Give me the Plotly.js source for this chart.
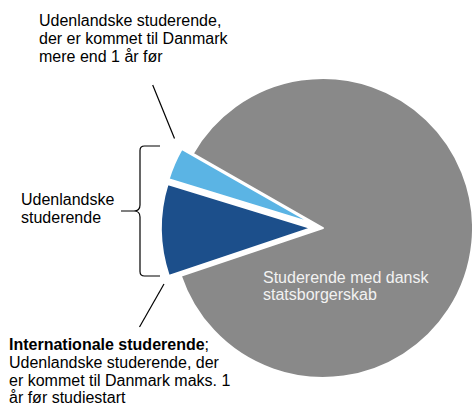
<!DOCTYPE html>
<html>
<head>
<meta charset="utf-8">
<script src="https://cdn.plot.ly/plotly-3.0.1.min.js"></script>
<style>
html,body{margin:0;padding:0;overflow:hidden;background:#fff;}
#chart{width:490px;height:405px;}
</style>
</head>
<body>
<div id="chart"></div>
<script>
// Data (shares, %)
const categories = ["Studerende med dansk statsborgerskab", "Internationale studerende", "Udenlandske studerende, kommet mere end 1 år før"];
const values = [86.6, 9.9, 3.5];
const colors = ["#898989", "#1c4f8b", "#5bb4e4"];
const pulls = [0, 0.08, 0.08];

const W = 490, H = 405;
const px = (x) => x / W;
const py = (y) => 1 - y / H;
const FONT = "Liberation Sans, Arial, sans-serif";

const trace = {
  type: "pie",
  labels: categories,
  values: values,
  sort: false,
  direction: "clockwise",
  rotation: -60.3,
  pull: pulls,
  marker: {colors: colors, line: {color: "#ffffff", width: 2}},
  textinfo: "none",
  hoverinfo: "label+value",
  showlegend: false,
  domain: {x: [161 / W, 485 / W], y: [py(390), py(66)]}
};

function line(text, x, y, color) {
  return {
    xref: "paper", yref: "paper", x: px(x), y: py(y),
    xanchor: "left", yanchor: "middle", showarrow: false,
    text: text, align: "left",
    font: {family: FONT, size: 16, color: color || "#000000"}
  };
}

const annotations = [
  line("Udenlandske studerende,", 37, 20),
  line("der er kommet til Danmark", 37, 38),
  line("mere end 1 år før", 37, 56.5),
  line("Udenlandske", 19, 199.5),
  line("studerende", 19, 217.5),
  line("<b>Internationale studerende</b>;", 7, 344.5),
  line("Udenlandske studerende, der", 7, 362.5),
  line("er kommet til Danmark maks. 1", 7, 380.5),
  line("år før studiestart", 7, 397.5),
  line("Studerende med dansk", 261, 277, "#f2f2f2"),
  line("statsborgerskab", 261, 294.5, "#f2f2f2")
];

function P(x, y) { return px(x) + "," + py(y); }
const bracePath =
  "M" + P(160,146) + " L" + P(144.5,146) + " Q" + P(140,146) + " " + P(140,150.5) +
  " L" + P(140,205) + " Q" + P(140,211) + " " + P(134,211) + " L" + P(121,211) +
  " M" + P(134,211) + " Q" + P(140,211) + " " + P(140,217) +
  " L" + P(140,271.5) + " Q" + P(140,276) + " " + P(144.5,276) + " L" + P(160,276);

const shapes = [
  {type: "line", xref: "paper", yref: "paper", x0: px(152.7), y0: py(85), x1: px(174.5), y1: py(138.5),
   line: {color: "#000000", width: 1.2}},
  {type: "line", xref: "paper", yref: "paper", x0: px(164), y0: py(284), x1: px(139.5), y1: py(327),
   line: {color: "#000000", width: 1.2}},
  {type: "path", xref: "paper", yref: "paper", path: bracePath,
   line: {color: "#000000", width: 1.2}}
];

const layout = {
  width: W, height: H,
  margin: {l: 0, r: 0, t: 0, b: 0},
  paper_bgcolor: "#ffffff",
  plot_bgcolor: "#ffffff",
  showlegend: false,
  annotations: annotations,
  shapes: shapes
};

Plotly.newPlot("chart", [trace], layout, {staticPlot: true, displayModeBar: false});
</script>
</body>
</html>
